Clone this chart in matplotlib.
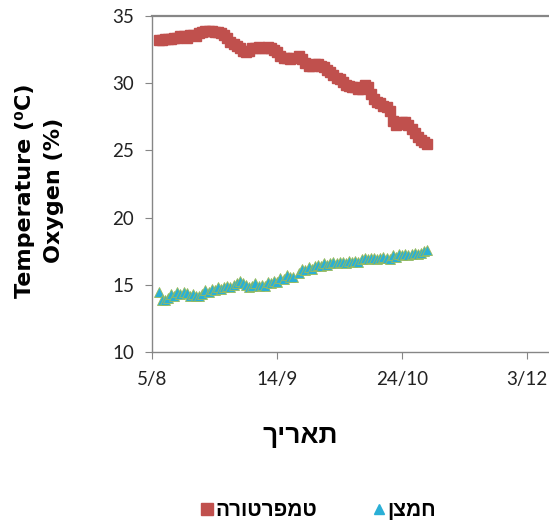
import datetime as dt
import matplotlib
matplotlib.use("Agg")
import matplotlib.pyplot as plt
import matplotlib.dates as mdates
from matplotlib.lines import Line2D
from matplotlib.ticker import FuncFormatter

plt.rcParams['font.family'] = ['Lato', 'DejaVu Sans']

# daily readings 7/8 .. 1/11 (20/9 missing)
first_day = dt.date(2013, 8, 7)
last_day = dt.date(2013, 11, 1)
missing = [dt.date(2013, 9, 20)]

temp = [33.2, 33.2, 33.3, 33.3, 33.3, 33.4, 33.4, 33.5, 33.5, 33.4,
        33.6, 33.6, 33.5, 33.7, 33.8, 33.9, 33.9, 33.9, 33.8, 33.8,
        33.7, 33.6, 33.4, 33.1, 32.9, 32.8, 32.6, 32.4, 32.3, 32.4,
        32.6, 32.6, 32.7, 32.6, 32.6, 32.7, 32.6, 32.5, 32.3, 32.0,
        31.9, 31.9, 31.8, 31.9,
        32.0, 31.8, 31.5, 31.3, 31.3, 31.4, 31.4, 31.3, 31.2, 31.0,
        30.8, 30.6, 30.4, 30.3, 30.1, 29.9, 29.8, 29.7, 29.7, 29.6,
        29.6, 29.9, 29.7, 29.2, 28.8, 28.6, 28.5, 28.3, 28.2, 27.9,
        27.2, 26.9, 27.0, 27.1, 27.1, 26.9, 26.6, 26.3, 26.0, 25.8,
        25.6, 25.5]

oxygen = [14.5, 13.9, 13.9, 14.0, 14.3, 14.2, 14.5, 14.3, 14.5, 14.4,
          14.2, 14.3, 14.2, 14.2, 14.3, 14.6, 14.5, 14.7, 14.6, 14.8,
          14.7, 14.8, 14.9, 14.8, 15.0, 15.1, 15.3, 15.1, 15.0, 14.8,
          14.9, 15.1, 14.9, 15.0, 14.9, 15.2, 15.1, 15.3, 15.2, 15.5,
          15.4, 15.7, 15.6, 15.6,
          15.9, 16.2, 16.1, 16.3, 16.2, 16.4, 16.5, 16.4, 16.6, 16.5,
          16.6, 16.7, 16.6, 16.7, 16.7, 16.6, 16.8, 16.7, 16.8, 16.7,
          16.9, 17.0, 16.9, 17.0, 17.0, 16.9, 17.0, 17.1, 17.0, 16.9,
          17.2, 17.1, 17.3, 17.2, 17.3, 17.2, 17.3, 17.4, 17.3, 17.4,
          17.5, 17.6]

xticks = [dt.date(2013, 8, 5), dt.date(2013, 9, 14), dt.date(2013, 10, 24), dt.date(2013, 12, 3)]
yticks = [10, 15, 20, 25, 30, 35]

lbl_temp = "טמפרטורה"
lbl_oxy = "חמצן"
lbl_x = "תאריך"

RED, AQUA, OLIVE, GREY = "#C0504D", "#2AAFD6", "#9BBB59", "#868686"
HEB = ['Liberation Sans', 'DejaVu Sans']


def rtl(s):
    # matplotlib has no bidi support, draw hebrew right-to-left by hand
    return s[::-1]


dates = []
d = first_day
while d <= last_day:
    if d not in missing:
        dates.append(d)
    d += dt.timedelta(days=1)

fig = plt.figure(figsize=(5.49, 5.22), dpi=100)
ax = fig.add_axes([0.2775, 0.3257, 0.7225, 0.6436])

ax.plot(dates, temp, ls="none", marker="s", ms=7.4, color=RED, mec=RED)
ax.plot(dates, oxygen, ls="none", marker="^", ms=7.6, color=AQUA, mec=OLIVE, mew=0.6)

ax.set_xlim(dt.date(2013, 8, 5), dt.date(2013, 12, 10))
ax.set_ylim(10, 35)
ax.set_xticks(xticks)
ax.xaxis.set_major_formatter(FuncFormatter(
    lambda v, p: "%d/%d" % (mdates.num2date(v).day, mdates.num2date(v).month)))
ax.set_yticks(yticks)

for s in ["left", "bottom", "top"]:
    ax.spines[s].set_color(GREY)
    ax.spines[s].set_linewidth(1.0)
ax.spines["top"].set_linewidth(1.6)
ax.spines["right"].set_visible(False)
ax.tick_params(length=5, color=GREY, labelsize=13.5, colors="#222222")
ax.tick_params(axis="y", pad=8)
ax.tick_params(axis="x", pad=9)

fig.text(0.072, 0.365 + 0.27, "Temperature (⁰C)\nOxygen (%)", rotation=90, ha="center",
         va="center", fontsize=16, weight="bold", linespacing=1.55, family=['DejaVu Sans'])
fig.text(300 / 549, 1 - 436 / 522, rtl(lbl_x), ha="center", va="center", fontsize=19,
         weight="bold", family=HEB)

handles = [Line2D([], [], ls="none", marker="s", ms=8, color=RED),
           Line2D([], [], ls="none", marker="^", ms=6.5, color=AQUA, mec=AQUA)]
fig.legend(handles, [rtl(lbl_temp), rtl(lbl_oxy)], loc="center",
           bbox_to_anchor=(318 / 549, 1 - 511 / 522), ncol=2, frameon=False,
           prop={"family": HEB, "weight": "bold", "size": 15},
           handletextpad=0.05, columnspacing=2.6, handlelength=0.7)

fig.savefig("out.png", dpi=100)
